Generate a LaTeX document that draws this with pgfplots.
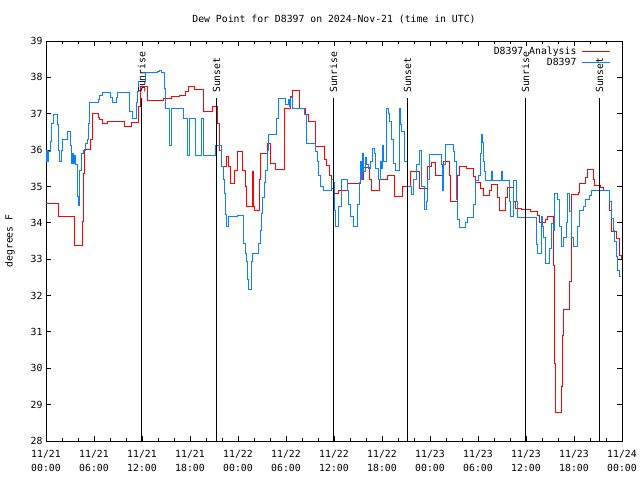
\documentclass[border=0pt]{standalone}
\usepackage{fontspec}
\setmainfont{DejaVu Sans Mono}
\usepackage{pgfplots}
\pgfplotsset{compat=1.18}
\definecolor{anared}{RGB}{255,0,0}
\definecolor{obsblue}{RGB}{10,128,255}
\newcommand{\gfont}{\fontsize{9.8}{14}\selectfont}
\begin{document}
\begin{tikzpicture}
\path[use as bounding box] (0,0) rectangle (640pt,480pt);
\begin{axis}[
 at={(46pt,39pt)}, anchor=south west,
 scale only axis, width=576pt, height=400pt,
 xmin=0, xmax=72, ymin=28, ymax=39,
 xtick={0,6,...,72},
 xticklabels={{11/21\\00:00},{11/21\\06:00},{11/21\\12:00},{11/21\\18:00},{11/22\\00:00},{11/22\\06:00},{11/22\\12:00},{11/22\\18:00},{11/23\\00:00},{11/23\\06:00},{11/23\\12:00},{11/23\\18:00},{11/24\\00:00}},
 minor x tick num=2,
 ytick={28,29,...,39},
 tick align=inside,
 major tick length=5pt, minor tick length=3pt,
 axis line style={line width=0.9pt},
 every tick/.style={black,line width=0.9pt},
 xticklabel style={align=center,font=\gfont,yshift=-6pt},
 yticklabel style={font=\gfont},
 /pgf/number format/assume math mode=true,
 title={Dew Point for D8397 on 2024-Nov-21 (time in UTC)},
 title style={at={(axis description cs:0.5,1.04)},anchor=center,font=\gfont},
 ylabel={degrees F},
 ylabel style={at={(axis description cs:-0.0625,0.5)},anchor=center,font=\gfont},
 legend plot pos=right,
 legend cell align=right,
 legend image code/.code={\draw[#1] (0pt,0pt) -- (28pt,0pt);},
 legend style={draw=none, fill=none, at={(axis description cs:0.982,0.994)}, anchor=north east, font=\gfont, row sep=-1pt, column sep=3pt, inner sep=1pt},
]
\addplot[const plot, anared, line width=1pt, mark=none] coordinates {
(0,34.54) (1.6,34.17) (3.6,33.39) (4.6,34.03) (4.75,35.36) (4.83,36.02) (5.6,36.28) (5.83,37.01) (6.54,36.9) (6.7,36.85) (7.04,36.72) (7.66,36.78) (9.84,36.66) (10.66,36.77) (11.6,37.2) (11.84,37.74) (12.66,37.36) (14.66,37.42) (15.7,37.47) (16.75,37.51) (17.5,37.6) (17.8,37.74) (18.6,37.67) (19.75,37.06) (20.8,37.21) (21.5,36.74) (21.63,36.28) (21.75,36.0) (21.96,35.54) (22.6,35.82) (22.8,35.54) (23.09,35.07) (23.58,35.45) (23.96,35.96) (24.6,35.45) (24.92,34.99) (25.08,34.44) (25.83,35.41) (25.96,34.44) (26.04,34.35) (26.7,35.18) (26.84,35.91) (27.63,36.19) (28.04,35.64) (28.66,35.47) (29.8,37.15) (30.6,37.47) (30.83,37.65) (31.66,37.15) (32.41,36.97) (32.84,36.78) (33.75,36.09) (34.79,35.73) (35.12,35.59) (35.41,35.31) (35.75,34.95) (35.96,34.81) (36.6,34.88) (37.63,35.09) (39.29,35.2) (39.7,35.53) (40.41,35.2) (40.66,34.88) (41.66,35.18) (42.66,35.29) (43.6,34.72) (44.59,34.99) (45.59,35.41) (46.66,34.95) (47.75,35.54) (48.2,35.65) (48.67,35.31) (49.63,35.68) (50.4,35.3) (50.6,34.6) (51.4,34.86) (51.5,35.31) (51.71,35.54) (52.6,35.5) (53.4,35.27) (53.67,35.1) (54.3,34.95) (54.71,34.74) (55.38,34.9) (55.66,35.06) (56.4,34.7) (56.63,34.35) (57.43,34.7) (57.66,34.98) (58.38,34.6) (58.66,34.4) (59.5,34.37) (60.6,34.32) (61.4,34.2) (61.66,34.0) (62.4,34.1) (62.66,34.17) (63.5,32.84) (63.58,30.13) (63.66,28.78) (64.41,29.49) (64.58,30.91) (64.75,31.62) (65.41,32.38) (65.66,34.78) (66.6,34.83) (66.75,35.09) (67.46,35.25) (67.66,35.47) (68.41,35.2) (68.59,35.04) (69.34,34.98) (69.66,34.9) (70.5,34.35) (70.66,34.03) (70.75,33.76) (71.33,33.58) (71.7,33.11) (71.9,33.0)
};
\addlegendentry{D8397 Analysis}
\addplot[const plot, obsblue, line width=1pt, mark=none] coordinates {
(0,35.7) (0.1,36.0) (0.2,35.7) (0.33,35.96) (0.6,36.23) (0.75,36.74) (1.0,36.97) (1.4,36.7) (1.6,36.0) (1.75,35.68) (2.0,36.0) (2.08,36.28) (2.7,36.51) (3.08,36.14) (3.2,35.64) (3.35,35.9) (3.45,35.64) (3.55,35.85) (3.7,35.6) (3.9,34.72) (4.04,34.49) (4.15,35.45) (4.4,35.91) (4.7,36.0) (4.95,36.19) (5.2,36.28) (5.33,36.74) (5.5,37.3) (6.54,37.4) (6.75,37.5) (7.04,37.59) (8.1,37.45) (8.37,37.31) (8.79,37.45) (9.0,37.59) (10.5,37.06) (10.79,36.87) (11.33,37.3) (11.5,37.6) (11.58,37.88) (12.5,38.13) (14.0,38.15) (14.2,38.2) (14.4,38.13) (14.8,37.7) (15.0,37.15) (15.5,36.14) (15.72,37.15) (17.25,36.87) (17.66,35.86) (18.0,36.87) (18.66,35.86) (19.41,36.87) (19.66,35.86) (21.25,36.14) (21.96,35.54) (22.25,35.18) (22.33,34.81) (22.5,34.22) (22.58,33.89) (22.79,34.17) (24.0,34.2) (24.3,34.19) (24.66,33.44) (24.92,33.16) (25.1,32.93) (25.25,32.43) (25.33,32.17) (25.66,32.93) (25.83,33.16) (26.6,33.44) (26.8,33.8) (26.92,34.26) (27.1,34.7) (27.33,35.1) (27.5,35.45) (27.66,36.0) (27.83,36.42) (28.83,36.87) (29.08,37.42) (30.0,37.25) (30.3,37.4) (30.5,37.2) (30.6,37.45) (30.85,37.15) (32.3,36.97) (32.58,36.19) (33.75,35.95) (33.9,35.7) (34.1,35.3) (34.3,34.99) (34.66,34.88) (35.66,35.18) (35.9,35.1) (36.1,34.35) (36.2,33.89) (36.6,34.44) (36.9,35.18) (37.66,34.9) (37.8,34.5) (38.04,34.17) (38.5,33.89) (39.0,34.5) (39.15,35.1) (39.3,35.68) (39.4,35.2) (39.6,35.91) (39.75,35.4) (39.96,35.8) (40.1,35.6) (40.3,35.5) (40.6,35.7) (40.84,36.05) (41.08,35.9) (41.25,35.5) (41.6,35.18) (41.8,35.7) (41.9,35.5) (42.1,36.14) (42.2,35.7) (42.6,37.15) (42.8,37.0) (43.0,36.8) (43.25,36.3) (43.5,35.64) (43.75,35.45) (44.16,37.15) (44.33,36.7) (44.5,36.5) (44.83,35.7) (45.13,34.99) (45.66,34.77) (45.95,35.2) (46.3,35.6) (46.66,36.0) (46.9,35.4) (47.0,35.0) (47.33,34.37) (47.58,34.6) (47.75,35.2) (47.9,35.89) (49.5,35.6) (49.6,34.9) (49.75,35.6) (49.9,36.16) (50.9,35.95) (51.1,35.7) (51.3,34.63) (51.45,34.1) (51.71,33.88) (52.41,34.0) (52.75,34.15) (53.4,34.5) (53.66,35.16) (54.1,35.3) (54.3,35.9) (54.42,36.42) (54.55,36.2) (54.7,35.7) (54.85,35.4) (55.0,35.16) (55.66,35.4) (55.8,35.16) (56.9,35.4) (57.1,35.16) (57.9,34.6) (58.1,34.17) (58.4,35.16) (58.8,34.6) (58.9,34.15) (61.3,33.4) (61.41,33.16) (61.9,34.17) (62.1,33.9) (62.25,33.6) (62.4,33.2) (62.5,32.88) (62.91,33.3) (63.16,33.99) (63.4,33.8) (63.58,34.81) (63.9,34.63) (64.2,33.9) (64.41,33.34) (64.66,33.6) (65.1,34.0) (65.25,34.81) (65.45,34.3) (65.7,33.6) (65.9,33.34) (66.4,33.9) (66.66,34.35) (67.2,34.45) (67.46,34.63) (68.0,34.75) (68.21,34.88) (70.4,34.6) (70.66,34.12) (70.9,33.8) (71.1,33.5) (71.3,33.07) (71.5,32.7) (71.7,32.52) (71.9,32.52)
};
\addlegendentry{D8397}
\addplot[black, line width=0.9pt, forget plot] coordinates {(11.96,28) (11.96,37.42)};
\addplot[black, line width=0.9pt, forget plot] coordinates {(21.33,28) (21.33,37.42)};
\addplot[black, line width=0.9pt, forget plot] coordinates {(35.92,28) (35.92,37.42)};
\addplot[black, line width=0.9pt, forget plot] coordinates {(45.2,28) (45.2,37.42)};
\addplot[black, line width=0.9pt, forget plot] coordinates {(59.92,28) (59.92,37.42)};
\addplot[black, line width=0.9pt, forget plot] coordinates {(69.2,28) (69.2,37.42)};
\node[rotate=90, anchor=west, inner sep=0pt, font=\gfont] at (axis cs:11.96,37.57) {Sunrise};
\node[rotate=90, anchor=west, inner sep=0pt, font=\gfont] at (axis cs:21.33,37.57) {Sunset};
\node[rotate=90, anchor=west, inner sep=0pt, font=\gfont] at (axis cs:35.92,37.57) {Sunrise};
\node[rotate=90, anchor=west, inner sep=0pt, font=\gfont] at (axis cs:45.2,37.57) {Sunset};
\node[rotate=90, anchor=west, inner sep=0pt, font=\gfont] at (axis cs:59.92,37.57) {Sunrise};
\node[rotate=90, anchor=west, inner sep=0pt, font=\gfont] at (axis cs:69.2,37.57) {Sunset};
\end{axis}
\end{tikzpicture}
\end{document}
